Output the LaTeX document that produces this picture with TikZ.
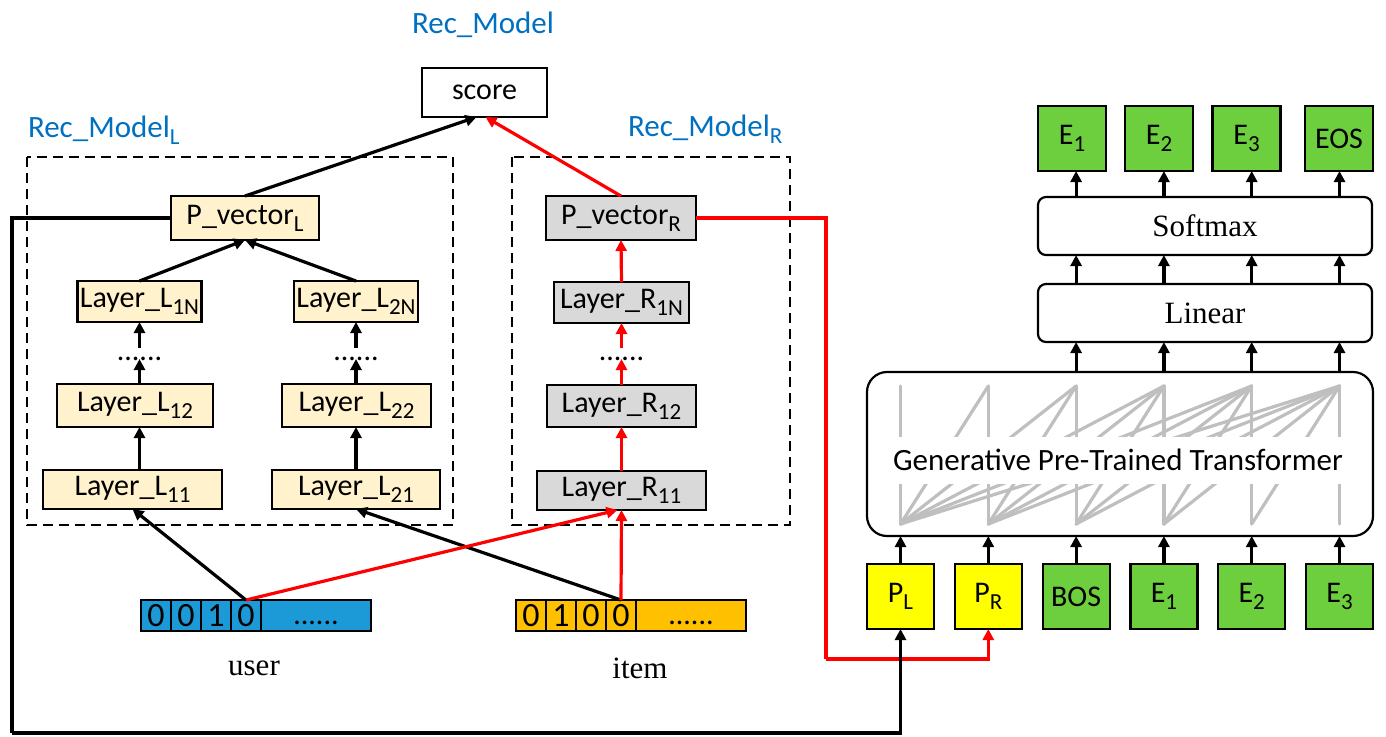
\documentclass[tikz,border=0pt]{standalone}
\usepackage{fontspec}
\setmainfont{Carlito}
\newfontfamily\tnr{Liberation Serif}
\usetikzlibrary{arrows.meta,calc}
\definecolor{cream}{HTML}{FFF2CC}
\definecolor{lgray}{HTML}{D9D9D9}
\definecolor{ublue}{HTML}{1B9AD7}
\definecolor{iorange}{HTML}{FFC000}
\definecolor{tgreen}{HTML}{6DCF3D}
\definecolor{tyellow}{HTML}{FFFF00}
\definecolor{lblue}{HTML}{0070C0}
\definecolor{attn}{HTML}{BFBFBF}
\newcommand\setfs[1]{\fontsize{#1}{#1}\selectfont}
% lowered subscript in the text font
\newcommand\lowsub[1]{\raisebox{-3.5pt}{\setfs{11.5}#1}}
\begin{document}
\begin{tikzpicture}[x=0.5pt,y=-0.5pt,
  every node/.style={inner sep=0pt, outer sep=0pt},
  box/.style={draw, line width=1.1pt, font=\setfs{15}},
  lyrL/.style={box, fill=cream},
  lyrR/.style={box, fill=lgray},
  tok/.style={box, minimum width=33.5pt, minimum height=32.5pt},
  tokY/.style={tok, fill=tyellow},
  tokG/.style={tok, fill=tgreen},
  outG/.style={box, fill=tgreen, minimum width=34pt, minimum height=32.5pt},
  layer/.style={draw, line width=1.1pt, rounded corners=4pt, minimum width=167pt,
    minimum height=29pt, font=\tnr\setfs{15.5}},
  cell/.style={draw, line width=0.8pt, minimum height=15.5pt, font=\setfs{17}},
  dots/.style={font=\setfs{15}, minimum height=11pt},
  lbl/.style={text=lblue, font=\setfs{15.5}},
  word/.style={font=\tnr\setfs{15.5}},
  group/.style={draw, line width=0.9pt, dash pattern=on 5pt off 3pt},
  arr/.style={line width=1.6pt, -{Triangle[length=5.5pt,width=5.5pt]}},
  arrR/.style={arr, red},
  link/.style={line width=1.6pt},
  linkR/.style={link, red},
  attnline/.style={draw=attn, line width=1.6pt, line cap=round}
]
\useasboundingbox (0,0) rectangle (1386,736);

% ---------- dashed model groups ----------
\draw[group] (27,157) rectangle (453,525);
\draw[group] (512,157) rectangle (790,525);
\node[lbl, anchor=base] (lblTop) at (483,33) {Rec\_Model};
\node[lbl, anchor=base west] (lblL) at (28,137) {Rec\_Model\lowsub{L}};
\node[lbl, anchor=base west] (lblR) at (628,136) {Rec\_Model\lowsub{R}};

% ---------- score ----------
\node[box, fill=white, minimum width=62.5pt, minimum height=24.5pt] (score) at (484.5,92.5) {score};

% ---------- left tower ----------
\node[lyrL, minimum width=74pt, minimum height=22pt] (PvL) at (245,218) {P\_vector\lowsub{L}};
\node[lyrL, minimum width=62pt, minimum height=20.5pt] (L1N) at (139.5,301.5) {Layer\_L\lowsub{1N}};
\node[lyrL, minimum width=62pt, minimum height=20.5pt] (L2N) at (356,301.5) {Layer\_L\lowsub{2N}};
\node[lyrL, minimum width=78pt, minimum height=21.5pt] (L12) at (135,405.5) {Layer\_L\lowsub{12}};
\node[lyrL, minimum width=74.5pt, minimum height=21.5pt] (L22) at (356.5,405.5) {Layer\_L\lowsub{22}};
\node[lyrL, minimum width=89.5pt, minimum height=19.5pt] (L11) at (132.5,489.5) {Layer\_L\lowsub{11}};
\node[lyrL, minimum width=84pt, minimum height=19.5pt] (L21) at (356,489.5) {Layer\_L\lowsub{21}};
\node[dots] (dA) at (139.5,359) {......};
\node[dots] (dB) at (356,359) {......};

% ---------- right tower ----------
\node[lyrR, minimum width=75pt, minimum height=22pt] (PvR) at (621,218) {P\_vector\lowsub{R}};
\node[lyrR, minimum width=67.5pt, minimum height=20.5pt] (R1N) at (621.5,302.5) {Layer\_R\lowsub{1N}};
\node[lyrR, minimum width=74.5pt, minimum height=21pt] (R12) at (621.5,406) {Layer\_R\lowsub{12}};
\node[lyrR, minimum width=84.5pt, minimum height=19.5pt] (R11) at (621.5,490.5) {Layer\_R\lowsub{11}};
\node[dots] (dC) at (621.5,359) {......};

% ---------- one-hot inputs ----------
\node[cell, fill=ublue, minimum width=15pt] (u1) at (156,615.5) {0};
\node[cell, fill=ublue, minimum width=15pt] (u2) at (186,615.5) {0};
\node[cell, fill=ublue, minimum width=15pt] (u3) at (216,615.5) {1};
\node[cell, fill=ublue, minimum width=15pt] (u4) at (246,615.5) {0};
\node[cell, fill=ublue, minimum width=55pt, text height=9pt, text depth=0pt, font=\setfs{15}] (ur) at (316,615.5) {......};
\node[cell, fill=iorange, minimum width=15pt] (i1) at (531,615.5) {0};
\node[cell, fill=iorange, minimum width=15pt] (i2) at (561,615.5) {1};
\node[cell, fill=iorange, minimum width=15pt] (i3) at (591,615.5) {0};
\node[cell, fill=iorange, minimum width=15pt] (i4) at (621,615.5) {0};
\node[cell, fill=iorange, minimum width=55pt, text height=9pt, text depth=0pt, font=\setfs{15}] (ir) at (691,615.5) {......};
\node[word] (user) at (254,668) {user};
\node[word] (item) at (640,668) {item};

% ---------- generator ----------
\node[tokY] (pl) at (900.5,596.5) {P\lowsub{L}};
\node[tokY] (pr) at (988.3,596.5) {P\lowsub{R}};
\node[tokG] (bos) at (1076.1,596.5) {BOS};
\node[tokG] (ein1) at (1163.9,596.5) {E\lowsub{1}};
\node[tokG] (ein2) at (1251.7,596.5) {E\lowsub{2}};
\node[tokG] (ein3) at (1339.5,596.5) {E\lowsub{3}};

\node[draw, line width=1.1pt, rounded corners=10pt, minimum width=253pt, minimum height=82pt] (gpt) at (1120,454) {};
\foreach \ka [count=\na] in {pl,pr,bos,ein1,ein2,ein3}{
  \foreach \kb [count=\nb] in {pl,pr,bos,ein1,ein2,ein3}{
    \ifnum\nb>\na\else
      \draw[attnline] (\ka |- 0,386) -- (\kb |- 0,524);
    \fi
  }
}
\fill[white] (878,437) rectangle (1362,484);
\node[font=\setfs{15.5}, anchor=base] (gptlbl) at (1118,470) {Generative Pre-Trained Transformer};

\node[layer] (lin) at (1205,313) {Linear};
\node[layer] (soft) at (1205,226) {Softmax};
\node[outG] (o1) at (1072,138.5) {E\lowsub{1}};
\node[outG] (o2) at (1159,138.5) {E\lowsub{2}};
\node[outG] (o3) at (1246.5,138.5) {E\lowsub{3}};
\node[outG] (o4) at (1339,138.5) {EOS};

% ---------- connectors: left tower ----------
\draw[arr] (L11.north -| L1N) -- (L12.south -| L1N);
\draw[arr] (L12.north -| dA) -- (dA.center);
\draw[arr] (dA.north) -- (L1N.south -| dA);
\draw[arr] (L21.north -| L2N) -- (L22.south -| L2N);
\draw[arr] (L22.north -| dB) -- (dB.center);
\draw[arr] (dB.north) -- (L2N.south -| dB);
\draw[arr] (L1N.north) -- (PvL.south);
\draw[arr] (L2N.north) -- (PvL.south);
\draw[arr] (PvL.north) -- ($(score.south)+(-8,0)$);

% ---------- connectors: inputs ----------
\draw[arr] (u4.north) -- (L11.south);
\draw[arr] (i4.north) -- (L21.south);
\draw[arrR] (u4.north) -- ($(R11.south)+(-4,0)$);
\draw[arrR] (i4.north) -- (R11.south);

% ---------- connectors: right tower ----------
\draw[arrR] (R11.north) -- (R12.south);
\draw[arrR] (R12.north) -- (dC.center);
\draw[arrR] (dC.north) -- (R1N.south);
\draw[arrR] (R1N.north) -- (PvR.south);
\draw[arrR] (PvR.north) -- ($(score.south)+(1,0)$);

% ---------- prompt vectors fed to the generator ----------
\coordinate (fbR) at (826,659);
\coordinate (fbL) at (12,733);
\draw[linkR] (PvR.east) -| (fbR);
\draw[arrR] (fbR) -| (pr.south);
\draw[link] (PvL.west) -| (fbL);
\draw[arr] (fbL) -| (pl.south);

% ---------- generator flow ----------
\foreach \t in {pl,pr,bos,ein1,ein2,ein3}
  \draw[arr] (\t.north) -- (\t.north |- gpt.south);
\foreach \t/\o in {bos/o1,ein1/o2,ein2/o3,ein3/o4}{
  \draw[arr] (gpt.north -| \t) -- (lin.south -| \t);
  \draw[arr] (lin.north -| \t) -- (soft.south -| \t);
  \draw[arr] (soft.north -| \t) -- (\o.south -| \t);
}
\end{tikzpicture}
\end{document}
